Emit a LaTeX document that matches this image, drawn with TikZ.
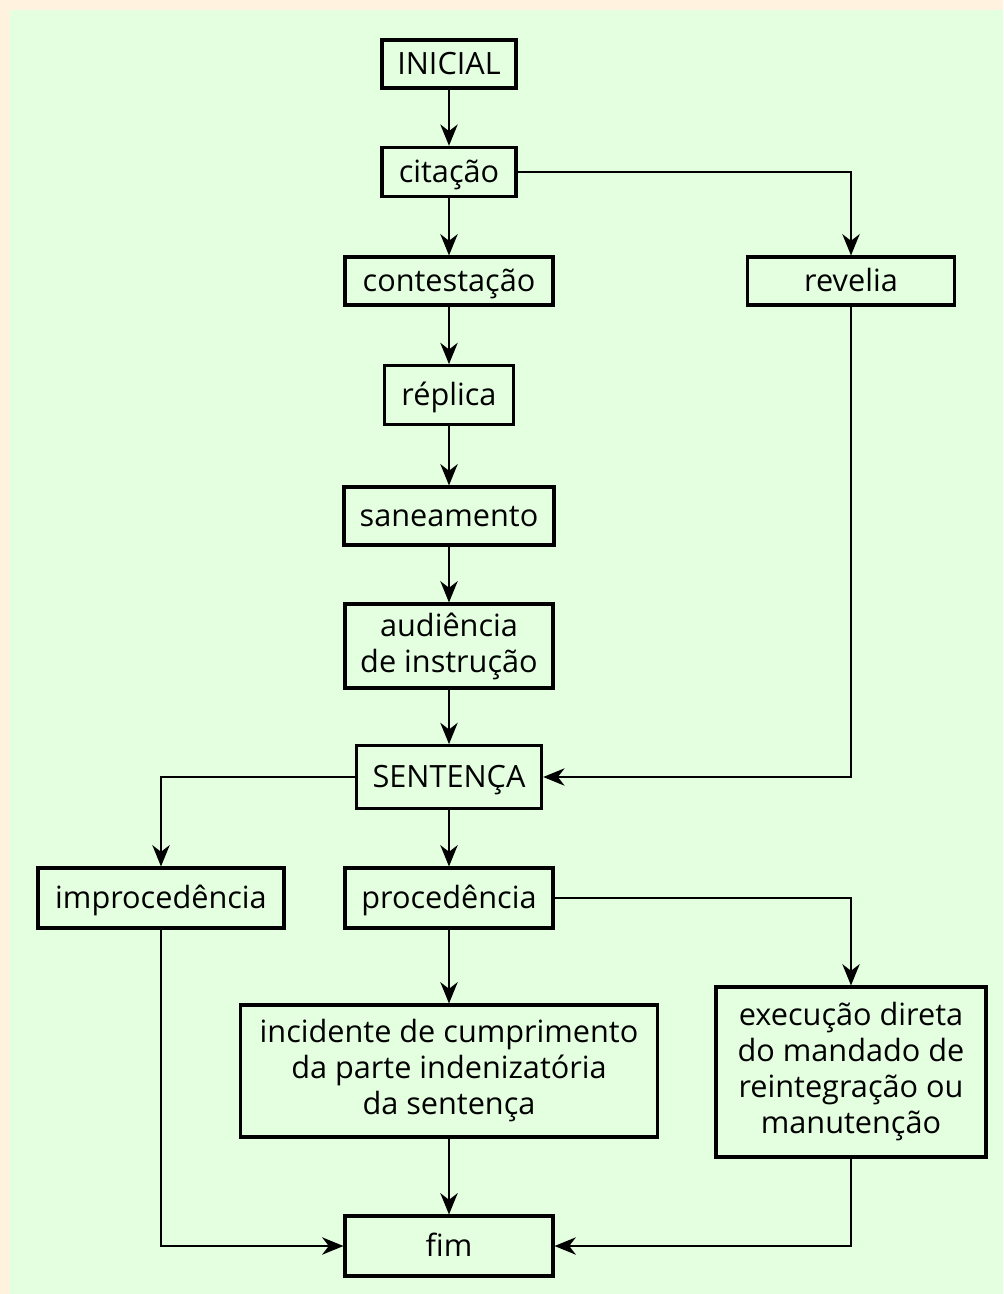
\documentclass[tikz,border=0pt]{standalone}
\usepackage{fontspec}
\setmainfont{Open Sans}
\usepackage{tikz}
\usetikzlibrary{arrows.meta}
\definecolor{cream}{HTML}{FFF3E0}
\definecolor{paleg}{HTML}{E3FFE0}
\tikzstyle{box}=[draw=black,line width=2.3pt,fill=paleg,inner sep=0pt,align=center,
  font=\fontsize{23pt}{27pt}\selectfont]
\tikzstyle{oneline}=[box,text height=17pt,text depth=1pt]
\tikzstyle{edge} = [draw,line width=1.5pt,-{Stealth[length=16pt,width=13pt,inset=5pt]}]

\begin{document}
\begin{tikzpicture}[x=0.75pt,y=-0.75pt]
      \useasboundingbox (0,0) rectangle (1003,1294);
      \fill[cream] (0,0) rectangle (1003,1294);
      \fill[paleg] (10,10) rectangle (1003,1294);
      % main column
      \node[oneline,minimum width=100.5pt,minimum height=36pt] (init) at (449,64) {INICIAL};
      \node[oneline,minimum width=100.5pt,minimum height=37pt] (cit) at (449,172) {citação};
      \node[oneline,minimum width=156pt,minimum height=36pt] (contest) at (449,281) {contestação};
      \node[oneline,minimum width=155pt,minimum height=36pt] (rev) at (851,281) {revelia};
      \node[oneline,minimum width=97pt,minimum height=44pt] (repl) at (449,395) {réplica};
      \node[oneline,minimum width=157.5pt,minimum height=43.5pt] (san) at (449,516) {saneamento};
      \node[box,minimum width=156pt,minimum height=63pt] (aud) at (449,646) {audiência\\de instrução};
      \node[oneline,minimum width=139pt,minimum height=47pt] (sent) at (449,777) {SENTENÇA};
      % results
      \node[oneline,minimum width=184.5pt,minimum height=45pt] (improc) at (161,898) {improcedência};
      \node[oneline,minimum width=156pt,minimum height=45pt] (proc) at (449,898) {procedência};
      \node[box,minimum width=313pt,minimum height=99pt] (incid) at (449,1071)
        {incidente de cumprimento\\da parte indenizatória\\da sentença};
      \node[box,minimum width=202.5pt,minimum height=127.5pt] (exec) at (851,1072)
        {execução direta\\do mandado de\\reintegração ou\\manutenção};
      \node[oneline,minimum width=156pt,minimum height=45pt] (fim) at (449,1246) {fim};
      % connectors
      \draw[edge] (init) -- (cit);
      \draw[edge] (cit) -- (contest);
      \draw[edge] (cit) -| (rev);
      \draw[edge] (contest) -- (repl);
      \draw[edge] (repl) -- (san);
      \draw[edge] (san) -- (aud);
      \draw[edge] (aud) -- (sent);
      \draw[edge] (rev) |- (sent);
      \draw[edge] (sent) -| (improc);
      \draw[edge] (sent) -- (proc);
      \draw[edge] (proc) -| (exec);
      \draw[edge] (proc) -- (incid);
      \draw[edge] (incid) -- (fim);
      \draw[edge] (improc) |- (fim);
      \draw[edge] (exec) |- (fim);
    \end{tikzpicture}
\end{document}
